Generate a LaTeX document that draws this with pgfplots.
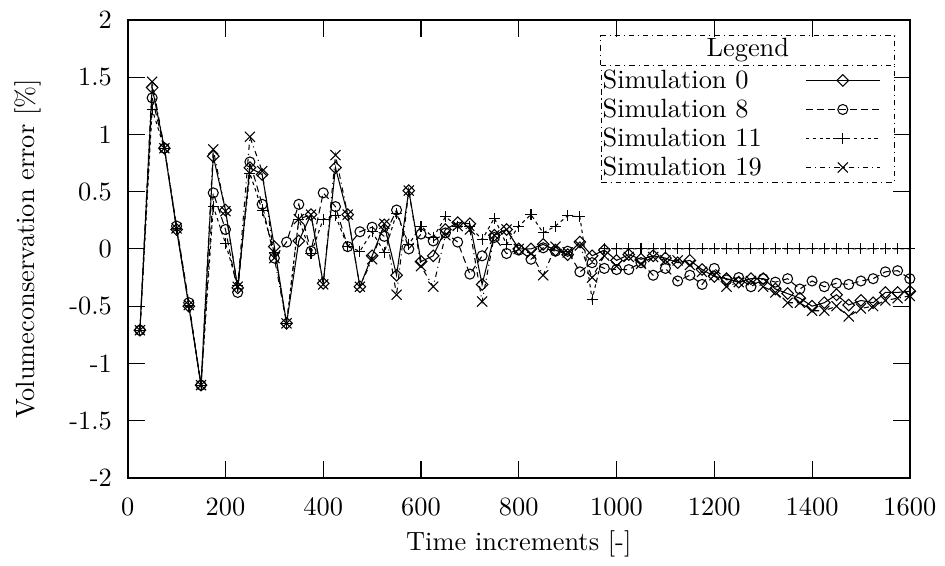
\documentclass[border=0pt]{standalone}
\usepackage{pgfplots}
\usepackage{pgfplotstable}
\pgfplotsset{compat=1.18}

% volume conservation error per time increment, four simulations
\pgfplotstableread{
x s0 s8 s11 s19
25 -0.71 -0.71 -0.71 -0.71
50 1.41 1.32 1.22 1.46
75 0.88 0.88 0.88 0.88
100 0.17 0.20 0.18 0.18
125 -0.50 -0.47 -0.49 -0.49
150 -1.19 -1.19 -1.19 -1.19
175 0.81 0.49 0.37 0.87
200 0.34 0.17 0.05 0.33
225 -0.34 -0.38 -0.32 -0.33
250 0.71 0.76 0.66 0.98
275 0.65 0.39 0.34 0.68
300 0.02 -0.08 -0.03 -0.08
325 -0.65 0.06 -0.65 -0.65
350 0.07 0.39 0.26 0.26
375 0.30 -0.02 -0.04 0.30
400 -0.30 0.49 0.26 -0.31
425 0.71 0.37 0.29 0.82
450 0.30 0.02 0.02 0.30
475 -0.33 0.15 -0.02 -0.33
500 -0.06 0.19 0.15 -0.09
525 0.21 0.11 -0.03 0.22
550 -0.23 0.34 0.31 -0.40
575 0.51 0.00 0.04 0.51
600 -0.11 0.13 0.20 -0.15
625 -0.06 0.07 0.10 -0.33
650 0.17 0.14 0.28 0.12
675 0.23 0.06 0.20 0.20
700 0.22 -0.22 0.20 0.17
725 -0.31 -0.06 0.08 -0.46
750 0.12 0.10 0.27 0.12
775 0.17 -0.04 0.04 0.17
800 0.00 -0.01 0.20 0.00
825 0.00 -0.09 0.30 -0.04
850 0.04 0.01 0.14 -0.23
875 -0.01 -0.02 0.20 0.02
900 -0.05 -0.02 0.29 -0.03
925 0.06 -0.20 0.28 0.03
950 -0.06 -0.12 -0.44 -0.25
975 -0.01 -0.17 0 -0.06
1000 -0.10 -0.18 0 -0.15
1025 -0.05 -0.18 0 -0.07
1050 -0.09 -0.12 0 -0.13
1075 -0.06 -0.23 0 -0.07
1100 -0.08 -0.17 0 -0.10
1125 -0.12 -0.28 0 -0.10
1150 -0.10 -0.23 0 -0.14
1175 -0.18 -0.31 0 -0.20
1200 -0.24 -0.17 0 -0.23
1225 -0.26 -0.27 0 -0.33
1250 -0.29 -0.25 0 -0.29
1275 -0.26 -0.33 0 -0.28
1300 -0.26 -0.26 0 -0.33
1325 -0.35 -0.29 0 -0.38
1350 -0.39 -0.26 0 -0.47
1375 -0.43 -0.35 0 -0.47
1400 -0.50 -0.28 0 -0.54
1425 -0.47 -0.33 0 -0.54
1450 -0.40 -0.30 0 -0.50
1475 -0.49 -0.31 0 -0.59
1500 -0.45 -0.28 0 -0.52
1525 -0.47 -0.26 0 -0.50
1550 -0.38 -0.20 0 -0.45
1575 -0.38 -0.19 0 -0.43
1600 -0.37 -0.26 0 -0.41
}\vol

\begin{document}
\begin{tikzpicture}
    \begin{axis}[
        scale only axis,
        width=296.4pt, height=173.5pt,
        xmin=0, xmax=1600,
        ymin=-2, ymax=2,
        xtick={0,200,...,1600},
        xticklabels={0,200,400,600,800,1000,1200,1400,1600},
        ytick={-2,-1.5,-1,-0.5,0,0.5,1,1.5,2},
        yticklabels={-2,-1.5,-1,-0.5,0,0.5,1,1.5,2},
        tick align=inside,
        major tick length=6.4pt,
        every tick/.style={black, line width=0.4pt},
        axis line style={line width=0.8pt},
        xticklabel style={yshift=-4pt},
        yticklabel style={xshift=-2.5pt},
        xlabel={Time increments [-]},
        ylabel={Volumeconservation error [\%]},
        xlabel style={at={(axis description cs:0.5,-0.144)}, anchor=center},
        ylabel style={at={(axis description cs:-0.1275,0.5)}, anchor=center},
        legend plot pos=right,
        legend image code/.code={
            \draw[mark repeat=2, mark phase=2] plot coordinates {(0pt,0pt) (14pt,0pt) (28pt,0pt)};
            \path (33.3pt,0pt);
        },
        legend cell align=left,
        legend style={
            name=leg,
            at={(axis description cs:1,1)}, anchor=north east,
            xshift=-5.7pt, yshift=-17pt,
            draw=black, line width=0.4pt,
            dash pattern=on 2pt off 1.5pt on 0.4pt off 1.5pt,
            inner xsep=0pt, inner ysep=1.2pt,
            nodes={inner xsep=0.5pt, inner ysep=0pt, text height=7.5pt, text depth=1.5pt},
            row sep=2pt, column sep=16pt
        },
    ]

    % Simulation 0
    \addplot[black, line width=0.4pt, mark=square, mark size=1.55pt,
        mark options={solid, rotate=45}] table[x=x, y=s0] {\vol};

    % Simulation 8
    \addplot[black, line width=0.4pt, dash pattern=on 2.6pt off 1.6pt,
        mark=o, mark size=1.9pt, mark options={solid}] table[x=x, y=s8] {\vol};

    % Simulation 11
    \addplot[black, line width=0.4pt, dash pattern=on 1.3pt off 1.3pt,
        mark=+, mark size=2.1pt, mark options={solid}] table[x=x, y=s11] {\vol};

    % Simulation 19
    \addplot[black, line width=0.4pt, dash pattern=on 2pt off 1.5pt on 0.4pt off 1.5pt,
        mark=x, mark size=2.7pt, mark options={solid}] table[x=x, y=s19] {\vol};

    \legend{Simulation 0, Simulation 8, Simulation 11, Simulation 19}
    \end{axis}

    % legend title box
    \draw[line width=0.4pt, dash pattern=on 2pt off 1.5pt on 0.4pt off 1.5pt]
        (leg.north west) -- ++(0,11pt) -| (leg.north east);
    \node[inner sep=0pt] at ([yshift=5.5pt]leg.north) {Legend};

    % page size as in the reference
    \path (current axis.south west) ++(-48.4pt,-32.9pt) coordinate (bl);
    \path (current axis.north east) ++(12.5pt,7.6pt) coordinate (tr);
    \path (bl) rectangle (tr);
\end{tikzpicture}
\end{document}
